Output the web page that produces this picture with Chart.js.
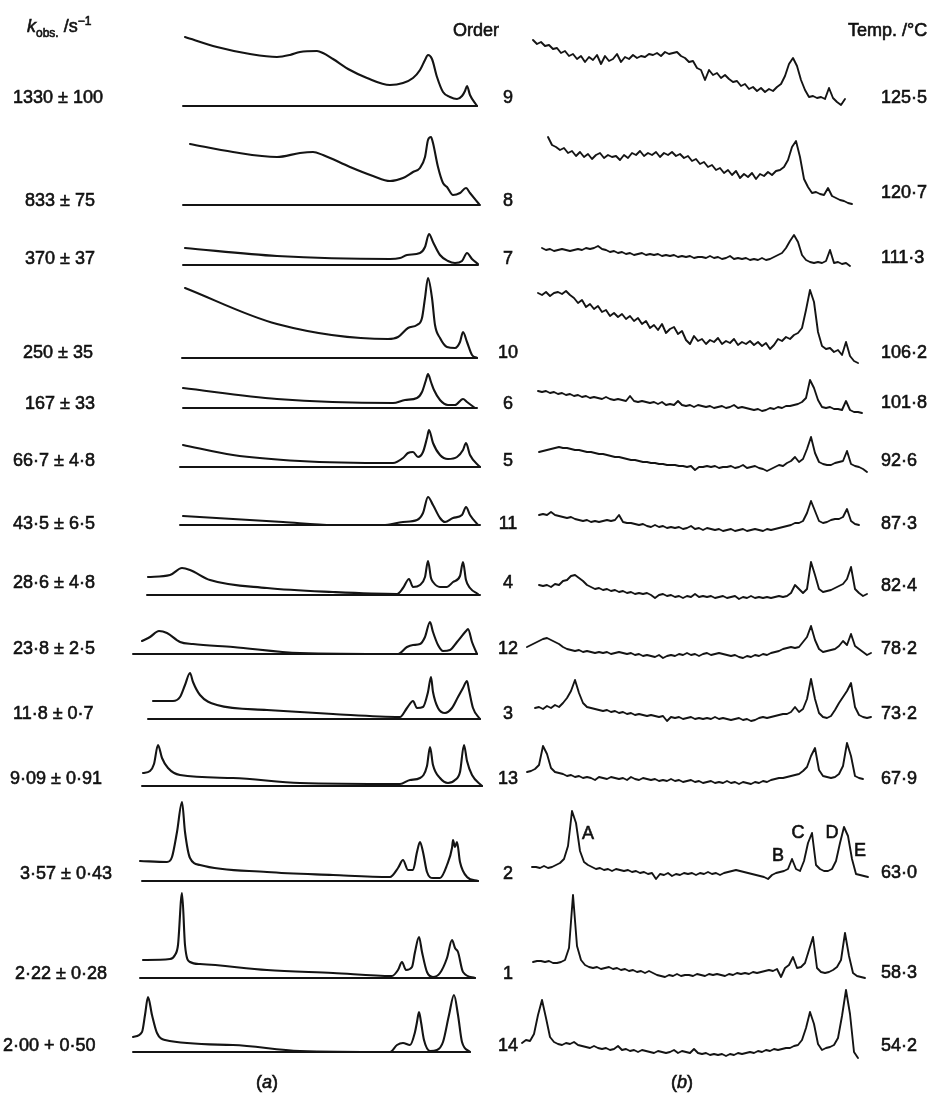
<!DOCTYPE html>
<html>
<head>
<meta charset="utf-8">
<script src="https://cdn.jsdelivr.net/npm/chart.js@4.4.1/dist/chart.umd.min.js"></script>
<style>
  html, body { margin: 0; padding: 0; background: #fff; }
  #wrap { position: relative; width: 943px; height: 1096px; overflow: hidden;
          font-family: "Liberation Sans", Arial, sans-serif; color: #111; }
  #chart { position: absolute; left: 0; top: 0; }
  .lbl { position: absolute; font-size: 18px; line-height: 1; white-space: nowrap;
         transform: translateY(-50%); -webkit-text-stroke: 0.6px #111; }
  .mid { transform: translate(-50%, -50%); }
  sub, sup { font-size: 12px; line-height: 0; }
</style>
</head>
<body>
<div id="wrap"><canvas id="chart" width="943" height="1096"></canvas></div>
<script>
// rows from top to bottom
const orders = [9, 8, 7, 10, 6, 5, 11, 4, 12, 3, 13, 2, 1, 14];
const kObs = ['1330 ± 100', '833 ± 75', '370 ± 37', '250 ± 35', '167 ± 33', '66·7 ± 4·8', '43·5 ± 6·5',
              '28·6 ± 4·8', '23·8 ± 2·5', '11·8 ± 0·7', '9·09 ± 0·91', '3·57 ± 0·43', '2·22 ± 0·28', '2·00 + 0·50'];
const temps = ['125·5', '120·7', '111·3', '106·2', '101·8', '92·6', '87·3', '82·4', '78·2', '73·2', '67·9', '63·0', '58·3', '54·2'];
const peakNames = ['A', 'B', 'C', 'D', 'E'];

// (a) simulated spectra: [shift, intensity]
const sim9 = [[185,69],[217,59],[250,52],[277,49],[290,51],[300,54],[317,55],[323,53],[333,47],[350,36],[367,28],[390,21],[403,23],[413,28],[420,36],[425,46],[428,51],[432,47],[437,29],[443,14],[450,9],[457,7],[462,10],[465,15],[467,20],[470,11],[477,0]];
const sim8 = [[190,61],[233,53],[277,48],[300,52],[313,53],[323,50],[350,38],[373,29],[390,24],[403,27],[413,33],[420,37],[425,48],[428,65],[431,68],[433,62],[438,38],[443,22],[447,18],[453,10],[460,12],[466,17],[470,12],[479,1]];
const sim7 = [[185,17],[277,9],[390,6],[400,7],[407,10],[420,12],[425,18],[429,31],[433,23],[440,10],[448,4],[455,2],[462,4],[467,12],[472,6],[478,1]];
const sim10 = [[185,70],[277,34],[388,19],[398,21],[408,30],[417,33],[422,40],[425,60],[428,80],[432,60],[435,33],[440,20],[447,11],[455,10],[460,16],[463,26],[467,16],[472,3],[477,0]];
const sim6 = [[183,20],[277,9],[393,5],[405,8],[417,10],[422,16],[426,28],[428,34],[431,26],[434,18],[440,8],[448,3],[455,3],[463,9],[467,6],[475,0]];
const sim5 = [[183,22],[233,12],[300,6],[393,4],[403,9],[408,14],[413,15],[418,10],[423,15],[427,29],[429,37],[433,24],[440,12],[448,8],[457,10],[463,17],[466,24],[470,12],[480,0]];
const sim11 = [[183,9],[283,3],[333,0],[383,0],[403,3],[417,5],[423,12],[428,28],[433,20],[440,7],[445,3],[453,7],[462,10],[466,18],[470,10],[478,0]];
const sim4 = [[148,18],[170,20],[182,27],[190,25],[210,15],[267,7],[333,3],[397,1],[403,7],[409,16],[413,8],[420,10],[425,18],[428,34],[431,17],[433,13],[440,8],[447,8],[453,13],[460,19],[463,33],[466,15],[470,7],[478,1]];
const sim12 = [[142,13],[150,17],[159,23],[167,21],[180,12],[193,10],[233,7],[300,1],[398,0],[407,7],[413,9],[420,10],[425,17],[430,32],[433,22],[438,9],[443,3],[450,4],[457,12],[466,23],[468,25],[472,12],[477,0]];
const sim3 = [[153,18],[173,18],[180,22],[185,34],[190,46],[193,37],[200,24],[217,14],[267,9],[333,5],[400,2],[407,11],[413,18],[417,11],[423,12],[428,27],[431,42],[433,27],[438,11],[445,6],[452,11],[458,22],[463,31],[467,38],[469,29],[473,11],[480,0]];
const sim13 = [[143,13],[150,15],[154,22],[158,41],[162,28],[168,18],[180,11],[233,8],[300,3],[400,2],[410,6],[420,8],[427,20],[430,39],[433,21],[440,8],[448,3],[455,6],[460,14],[464,41],[467,25],[472,11],[482,0]];
const sim2 = [[140,20],[167,19],[172,24],[177,49],[182,79],[185,49],[190,23],[200,16],[267,9],[333,6],[390,4],[398,13],[403,21],[408,11],[413,11],[417,29],[420,39],[423,29],[427,9],[433,3],[440,3],[447,16],[452,33],[453,41],[455,34],[457,39],[460,19],[467,4],[478,0]];
const sim1 = [[143,18],[170,19],[175,23],[178,33],[182,85],[185,33],[190,16],[200,14],[267,8],[333,5],[392,2],[398,8],[402,16],[406,8],[412,11],[415,26],[419,41],[422,26],[427,6],[433,1],[440,5],[447,20],[452,38],[455,30],[458,26],[463,6],[475,0]];
const sim14 = [[133,15],[142,20],[145,37],[148,55],[152,37],[157,19],[165,12],[233,7],[300,1],[390,0],[397,7],[403,9],[410,7],[415,20],[417,30],[419,40],[421,30],[424,12],[430,1],[437,2],[443,10],[449,37],[454,57],[458,37],[462,10],[470,0]];

// (b) experimental spectra: intensities sampled every 4 units of shift
const exp9 = [66,62,64,60,61,57,58,53,55,50,52,47,50,44,49,46,51,42,50,45,47,52,44,49,47,51,48,50,49,52,51,53,50,54,52,53,54,50,48,44,45,38,36,26,36,31,33,28,31,27,24,25,20,22,17,19,15,18,14,17,15,19,22,30,42,48,40,26,16,9,10,8,9,7,18,8,4,1,7];
const exp8 = [68,60,58,55,57,52,54,49,53,48,51,46,50,52,47,50,48,49,45,50,47,52,50,54,49,52,50,53,48,52,50,53,49,51,47,49,44,46,41,43,38,40,35,37,32,35,30,34,27,31,28,32,26,31,29,33,30,34,35,38,45,58,64,48,26,18,12,13,11,10,17,9,7,5,4,2,1];
const exp7 = [17,15,16,14,15,16,15,14,15,16,15,17,16,17,19,16,15,13,14,12,13,11,12,10,11,12,10,11,10,11,9,10,9,10,8,9,8,9,7,8,8,7,9,7,8,6,7,9,6,7,6,7,5,6,5,7,5,6,8,10,12,17,24,30,23,10,5,3,2,3,2,4,15,2,3,1,2,-1];
const exp10 = [65,63,66,62,65,66,64,67,63,60,55,58,51,54,49,52,46,48,42,45,41,44,39,42,37,40,34,37,30,33,28,34,25,29,31,24,27,18,14,22,17,19,14,18,16,20,14,17,15,19,13,16,14,17,13,16,12,15,9,13,19,17,21,19,23,25,30,48,68,56,26,12,9,10,6,8,3,16,2,-3,-5];
const exp6 = [17,16,17,15,16,14,15,13,14,12,13,11,12,10,11,10,9,11,9,8,9,8,7,12,7,6,7,6,5,6,4,6,3,4,3,7,3,2,3,1,3,2,1,2,0,1,2,0,1,3,0,1,0,-1,-2,-1,-3,-2,0,-1,1,0,2,2,3,4,6,10,28,20,8,1,0,1,-1,-1,-2,7,-2,-4,-4,-5];
const exp5 = [15,16,17,18,19,20,19,19,18,17,17,16,15,15,14,13,13,12,11,10,10,9,8,7,7,6,5,5,4,4,3,3,2,2,2,1,1,0,1,-3,0,0,1,0,1,-1,0,0,1,-1,0,2,-1,0,1,-1,-2,-4,-2,0,2,1,4,6,10,5,8,18,30,14,5,3,2,2,4,5,6,16,3,1,0,-2,-5];
const exp11 = [10,11,10,13,10,9,8,7,8,6,5,4,5,3,4,3,4,5,4,5,10,3,2,2,1,0,1,-1,-2,0,-2,-1,-3,-2,-3,-2,-4,-3,-1,-4,-3,-5,-3,-4,-5,-4,-6,-5,-4,-6,-5,-4,-6,-5,-4,-5,-6,-4,-5,-4,-3,-2,-1,0,2,2,4,12,24,14,4,2,3,5,6,6,8,16,4,1,0];
const exp4 = [10,9,10,8,11,10,14,15,19,20,17,14,10,8,6,7,5,6,4,5,3,4,2,3,1,2,1,2,0,-3,0,1,-1,0,-2,-1,-3,-1,-2,1,-2,-1,-2,-1,-3,-2,-1,-3,-2,-1,-4,-2,-3,-1,-3,-2,-3,-2,-3,-2,-1,-2,-1,2,10,6,2,6,33,20,6,3,4,5,7,9,11,16,28,6,2,-1,1];
const exp12 = [7,9,11,13,15,16,14,12,10,7,5,4,3,4,2,3,2,1,2,1,2,0,1,2,1,0,1,-1,0,-2,-1,-2,-3,-1,-4,-2,-1,-2,0,-1,1,-1,0,-2,0,1,-1,0,1,0,-1,-2,-1,-3,-4,-2,-3,-1,-2,0,-1,1,2,3,5,6,7,6,7,12,17,28,14,5,2,3,4,5,8,13,9,20,8,5,2,-1,1];
const exp3 = [11,12,10,13,11,14,12,16,21,28,39,26,16,12,11,10,9,8,9,7,8,6,7,5,6,4,5,4,3,4,3,2,3,-2,2,1,2,0,1,2,0,1,0,1,0,2,0,1,0,-1,0,1,-1,0,-2,-1,1,2,1,2,3,4,5,5,7,12,7,10,20,40,20,6,2,1,3,9,16,22,28,36,12,4,2,1,2];
const exp13 = [14,15,17,21,40,32,18,14,13,12,10,11,9,10,8,9,8,6,9,8,7,9,8,7,8,6,9,7,6,8,7,6,7,5,6,5,7,5,6,4,5,6,4,5,3,4,5,3,4,3,5,3,4,2,4,3,2,4,3,5,4,6,7,8,8,9,10,11,12,15,19,30,38,16,10,9,8,9,12,20,43,30,10,8,7];
const exp2 = [14,14,13,15,13,14,16,18,22,35,70,58,30,19,16,14,12,13,11,12,10,12,11,10,11,9,10,8,9,7,8,2,7,6,8,5,7,6,8,7,8,6,8,7,9,7,8,6,8,9,10,11,10,9,8,7,6,5,4,2,6,8,9,10,12,22,12,10,20,38,48,16,12,10,10,12,20,38,54,45,22,7,6,5,4];
const exp1 = [16,17,17,16,17,15,15,16,18,30,83,32,18,13,11,10,11,9,10,11,9,10,8,9,7,8,6,7,5,7,5,3,2,1,3,2,4,2,3,3,2,4,3,2,4,3,4,3,2,4,3,5,4,5,4,6,5,6,7,8,7,9,1,10,13,21,10,11,15,28,41,10,6,5,6,8,11,18,45,22,5,2,1,0];
const exp14 = [9,12,11,18,37,52,34,15,10,8,7,9,8,10,7,6,5,4,6,4,3,4,2,3,6,2,3,1,2,0,2,1,0,-1,1,0,-1,0,2,-1,1,0,-1,3,-1,-2,-1,-3,-2,-3,-2,-4,-2,-3,-1,-2,-1,0,-1,1,0,2,1,3,2,3,4,4,6,7,12,24,40,28,8,2,4,5,7,14,36,62,38,0,-6];

const simRows = [sim9, sim8, sim7, sim10, sim6, sim5, sim11, sim4, sim12, sim3, sim13, sim2, sim1, sim14];
const expRows = [exp9, exp8, exp7, exp10, exp6, exp5, exp11, exp4, exp12, exp3, exp13, exp2, exp1, exp14];

// layout (page units)
const rowBase = [106, 205, 265, 358, 408, 467, 525, 595, 654, 719, 786, 881, 978, 1052];
const baseFrom = [183, 183, 183, 182, 183, 180, 180, 147, 133, 148, 142, 142, 140, 133];
const baseTo = [477, 480, 478, 477, 477, 480, 480, 480, 477, 480, 482, 478, 475, 470];
const expFrom = [533, 548, 542, 538, 538, 539, 539, 539, 527, 535, 527, 532, 533, 522];
const expStep = 4;
const labelY = [97, 200, 258, 352, 403, 460, 523, 582, 648, 713, 778, 873, 973, 1045];
const kX = [13, 25, 25, 23, 25, 13, 13, 13, 13, 13, 10, 20, 15, 3];
const tempY = [97, 192, 257, 352, 402, 460, 523, 585, 648, 713, 778, 872, 972, 1045];
const peakPos = [[588, 833], [778, 855], [798, 832], [832, 832], [860, 850]];

const ink = '#141414';
const datasets = [];
simRows.forEach((row, i) => {
    datasets.push({
        data: [{ x: baseFrom[i], y: rowBase[i] }, { x: baseTo[i], y: rowBase[i] }],
        borderColor: ink, borderWidth: 2, tension: 0
    });
    datasets.push({
        data: row.map(p => ({ x: p[0], y: rowBase[i] - p[1] })),
        borderColor: ink, borderWidth: 2.1, cubicInterpolationMode: 'monotone'
    });
    datasets.push({
        data: expRows[i].map((h, j) => ({ x: expFrom[i] + j * expStep, y: rowBase[i] - h })),
        borderColor: ink, borderWidth: 1.9, tension: 0
    });
});

new Chart(document.getElementById('chart'), {
    type: 'line',
    data: { datasets },
    options: {
        responsive: false,
        animation: false,
        devicePixelRatio: 1,
        layout: { padding: 0 },
        elements: { point: { radius: 0 }, line: { borderCapStyle: 'round', borderJoinStyle: 'round' } },
        scales: {
            x: { type: 'linear', min: 0, max: 943, display: false },
            y: { type: 'linear', min: 0, max: 1096, reverse: true, display: false }
        },
        plugins: { legend: { display: false }, tooltip: { enabled: false } }
    }
});

// text labels
const wrap = document.getElementById('wrap');
function addLabel(html, x, y, centered) {
    const d = document.createElement('div');
    d.className = centered ? 'lbl mid' : 'lbl';
    d.style.left = x + 'px';
    d.style.top = y + 'px';
    d.innerHTML = html;
    wrap.appendChild(d);
}

addLabel('<i>k</i><sub>obs.</sub> /s<sup>−1</sup>', 27, 26);
addLabel('Order', 453, 30);
addLabel('Temp. /°C', 848, 30);
kObs.forEach((t, i) => addLabel(t, kX[i], labelY[i]));
orders.forEach((o, i) => addLabel(String(o), 508, labelY[i], true));
temps.forEach((t, i) => addLabel(t, 881, tempY[i]));
peakNames.forEach((n, i) => addLabel(n, peakPos[i][0], peakPos[i][1], true));
addLabel('(<i>a</i>)', 267, 1082, true);
addLabel('(<i>b</i>)', 682, 1082, true);
</script>
</body>
</html>
